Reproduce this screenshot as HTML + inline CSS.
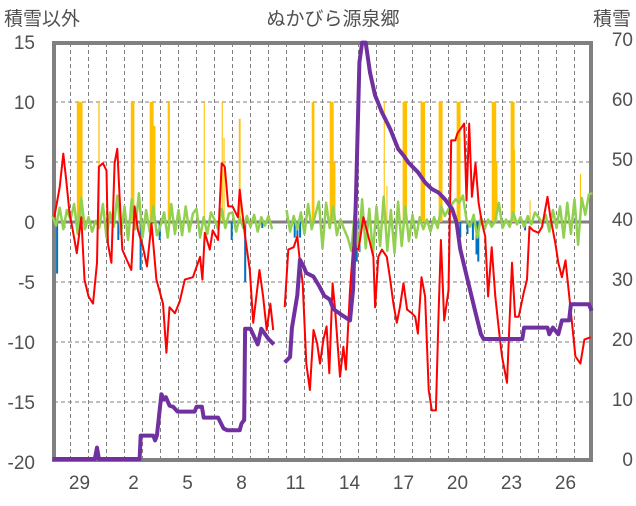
<!DOCTYPE html>
<html><head><meta charset="utf-8">
<style>
body{margin:0;background:#fff;}
svg text{font-family:"Liberation Sans","Noto Sans CJK JP",sans-serif;fill:#505050;}
</style></head>
<body>
<svg id="chart" width="636" height="501" viewBox="0 0 636 501" xmlns="http://www.w3.org/2000/svg">
<text x="4" y="25" font-size="19">積雪以外</text>
<text x="333" y="25" font-size="19" text-anchor="middle">ぬかびら源泉郷</text>
<text x="631" y="25" font-size="19" text-anchor="end">積雪</text>
<g id="grid"></g>
<g id="bars"></g>
<rect x="54" y="43" width="537" height="417" fill="none" stroke="#808080" stroke-width="4"/>
<g id="lines"></g>
<g id="axes"></g>
</svg>
<script>
const dayLabels=["29","2","5","8","11","14","17","20","23","26"];
const dayLabelIdx=[1,4,7,10,13,16,19,22,25,28];
const leftTicks=[15,10,5,0,-5,-10,-15,-20];
const rightTicks=[70,60,50,40,30,20,10,0];
const tempT=[0.1,0.4,0.6,0.76,0.95,1.13,1.35,1.6,1.78,2.0,2.25,2.47,2.58,2.8,3.0,3.08,3.27,3.45,3.6,3.73,3.88,4.14,4.38,4.56,4.75,5.03,5.25,5.5,5.77,6.14,6.33,6.5,6.8,7.07,7.35,7.8,8.2,8.33,8.46,8.74,8.9,9.2,9.4,9.57,9.76,10.0,10.3,10.4,10.7,10.96,11.15,11.5,11.7,11.9,12.1,12.26,12.6,12.9,13.1,13.4,13.6,13.75,13.9,14.1,14.3,14.5,14.7,14.86,15.05,15.23,15.38,15.56,15.7,15.97,16.16,16.3,16.53,16.7,17.0,17.27,17.55,17.83,17.92,18.1,18.3,18.57,18.76,18.94,19.13,19.3,19.5,19.7,19.96,20.15,20.3,20.5,20.7,20.9,21.07,21.3,21.45,21.58,21.76,22.0,22.15,22.37,22.5,22.74,22.87,23.0,23.15,23.3,23.5,23.67,23.86,24.04,24.2,24.4,24.6,24.8,24.97,25.25,25.53,25.7,25.9,26.18,26.36,26.5,26.7,27.0,27.2,27.5,27.66,27.94,28.1,28.3,28.5,28.77,29.05,29.33,29.55,29.9];
const tempV=[0.4,2.9,5.7,3.5,0.7,-0.7,-2.6,0.4,-4.8,-6.2,-6.8,-3.4,4.6,4.9,4.3,-1.8,-3.4,4.9,6.1,2.1,-2.3,-3.2,-4.0,1.3,-0.7,-2.1,-3.7,-0.1,-4.8,-6.8,-10.9,-7.1,-7.6,-6.6,-4.8,-4.6,-2.9,-4.8,-0.9,-2.3,-0.7,-1.5,4.9,4.6,1.3,1.3,0.4,2.7,-1.2,-4.0,-8.4,-4.0,-6.2,-9.0,-6.8,-9.0,null,-7.1,-2.3,-2.1,-1.2,-3.4,-5.1,-11.8,-14.0,-9.0,-10.1,-11.8,-9.8,-8.7,-12.6,-5.1,-7.3,-12.9,-10.4,-12.3,-5.7,-2.1,-2.3,0.4,-1.2,-2.9,-7.1,-2.9,-2.3,-2.9,-4.8,-6.8,-8.4,-7.1,-5.1,-7.3,-7.6,-7.9,-9.3,-4.6,-6.2,-14.0,-15.7,-15.7,-7.6,-1.5,-8.2,-5.7,6.8,6.8,7.4,7.9,8.2,1.8,8.2,2.1,4.9,1.6,-0.1,-1.2,-6.2,-2.1,-6.2,-9.0,-11.2,-13.4,-3.4,-7.9,-7.9,-5.9,-4.8,-0.4,-0.7,-0.9,-0.4,2.1,0.4,-1.8,-3.4,-4.6,-3.2,-7.1,-11.2,-11.8,-9.8,-9.6];
const snowT=[0,2.35,2.47,2.58,4.84,4.9,5.6,5.7,5.8,6.05,6.2,6.3,6.5,6.7,6.95,7.9,8.0,8.3,8.4,9.2,9.5,9.7,10.4,10.5,10.65,10.7,11.0,11.4,11.6,12.0,12.3,12.6,12.9,13.1,13.2,13.3,13.6,13.75,13.95,14.1,14.5,14.8,15.1,15.4,15.6,15.97,16.53,16.7,16.86,17.05,17.2,17.4,17.64,17.92,18.3,18.76,19.2,19.5,19.78,20.3,20.7,21.07,21.45,21.8,22.2,22.45,22.65,23.0,23.5,23.8,23.95,26.1,26.2,27.5,27.6,27.8,28.1,28.3,28.7,28.8,29.8,29.95];
const snowV=[0,0,1.9,0,0,3.9,3.9,3.1,3.9,10.8,9.9,10.3,8.9,8.7,7.9,7.9,8.7,8.7,6.9,6.9,5.1,4.8,4.8,5.9,6.5,21.7,21.7,19.1,21.7,20.0,19.1,null,16.1,16.7,17.0,21.8,27.3,33.2,32.1,31.0,30.4,28.9,27.2,26.6,25.0,24.2,23.1,28.3,43.9,66.1,69.4,69.4,64.4,60.6,57.8,55.0,51.7,50.6,49.4,47.8,46.1,45.0,44.4,43.3,41.7,39.4,35.0,30.6,24.4,20.8,20.0,20.0,21.9,21.9,20.8,21.9,20.8,23.1,23.1,25.8,25.8,24.7];
const windV=[0.5,-0.3,1.2,-0.6,1.0,0.2,1.5,-1.0,2.0,-0.6,0.4,-0.8,0.1,-0.5,1.5,-1.3,0.8,-0.4,2.2,-1.0,1.3,-1.5,1.9,-0.6,2.4,-1.3,1.0,-0.8,1.3,-1.1,-0.3,0.8,-1.3,1.5,-1.0,1.0,-1.1,1.3,-0.8,0.7,1.1,-1.3,0.4,-1.0,0.8,0.2,-0.6,1.1,-0.5,0.7,0.8,-0.8,0.4,-0.5,0.5,-0.4,0.6,-0.8,0.4,-0.3,0.5,-0.6,null,null,null,1.0,-0.8,0.5,-0.6,0.8,-1.0,1.5,-0.6,0.6,1.7,-2.2,1.6,-0.5,1.3,-1.1,0.2,-0.6,-1.3,-2.4,1.0,-2.4,1.9,-2.2,1.1,-2.7,1.3,-2.0,2.1,-2.4,1.0,-2.6,1.7,-2.0,1.3,-1.6,0.6,-1.3,0.4,-0.6,0.2,-0.8,0.4,-0.5,1.3,0.5,1.1,1.5,1.9,1.6,2.2,0.2,-0.4,0.6,-1.3,0.4,-0.6,0.2,-0.4,0.1,1.6,-0.5,0.2,-0.4,0.8,-0.2,0.4,-0.4,0.5,-0.2,0.8,0.4,-0.1,0.6,-0.8,1.0,-0.5,1.3,-1.3,1.6,-1.0,1.9,-1.9,2.0,0.6,2.3,2.4];
const windStep=0.2;
const precipT=[1.35,1.55,2.55,4.35,5.4,5.6,6.4,8.4,9.4,9.5,10.35,14.4,15.4,15.6,18.4,18.55,19.45,20.45,21.45,22.45,24.4,24.6,25.45,25.6,26.5,29.3];
const precipV=[10,10,10,10,10,8,10,10,10,7,8.6,10,10,5,10,3,10,10,10,10,10,5,10,6,1.8,4];
const precipW=[0.22,0.12,0.07,0.2,0.22,0.12,0.12,0.06,0.06,0.06,0.1,0.15,0.22,0.12,0.06,0.06,0.25,0.25,0.22,0.22,0.25,0.12,0.22,0.1,0.06,0.06];
const meltT=[0.05,0.2,0.6,3.6,4.84,5.9,9.9,10.65,11.6,13.4,13.55,13.7,16.7,16.85,17.0,22.6,23.0,23.3,23.5,23.6,26.2,28.7];
const meltV=[-7,-4.3,-0.5,-1.5,-4,-1.5,-1.5,-5,-0.5,-1.3,-1.5,-1.3,-3.0,-3.3,-2.5,-1.3,-1.0,-1.5,-2.7,-3.3,-0.7,-0.5];
const NS='http://www.w3.org/2000/svg';
const X=d=>52.5+d*18;
const YL=v=>222-v*12;
const YR=v=>459-v*6;
function mk(tag,attrs,parent){const e=document.createElementNS(NS,tag);for(const k in attrs)e.setAttribute(k,attrs[k]);parent.appendChild(e);return e;}
const grid=document.getElementById('grid'),bars=document.getElementById('bars'),lines=document.getElementById('lines'),axes=document.getElementById('axes');
for(let d=1;d<30;d++){const l=mk('line',{x1:X(d),x2:X(d),y1:43,y2:460,stroke:'#7f7f7f','stroke-width':1,'stroke-dasharray':'4,3'},grid);

}
leftTicks.forEach(v=>{if(v===15||v===-20)return;const l=mk('line',{x1:54,x2:591,y1:YL(v),y2:YL(v),stroke:v===0?'#808080':'#7f7f7f','stroke-width':v===0?3:1,'stroke-dasharray':v===0?'none':'4,3'},grid);

});
precipT.forEach((t,i)=>{const r=mk('rect',{x:X(t),y:YL(precipV[i]),width:precipW[i]*18,height:YL(0)-YL(precipV[i]),fill:'#FFC000'},bars);

});
meltT.forEach((t,i)=>{const r=mk('rect',{x:X(t),y:YL(0),width:2,height:YL(meltV[i])-YL(0),fill:'#0070C0'},bars);

});
function path(ts,vs,yf){let d='',pen=false;for(let i=0;i<vs.length;i++){if(vs[i]===null){pen=false;continue;}d+=(pen?'L':'M')+X(ts[i]).toFixed(1)+','+yf(vs[i]).toFixed(1);pen=true;}return d;}
const windT=windV.map((_,i)=>i*windStep);
const g=mk('path',{d:path(windT,windV,YL),fill:'none',stroke:'#92D050','stroke-width':2.5,'stroke-linejoin':'round'},lines);


const r=mk('path',{d:path(tempT,tempV,YL),fill:'none',stroke:'#FF0000','stroke-width':2,'stroke-linejoin':'round'},lines);


const p=mk('path',{d:path(snowT,snowV,YR),fill:'none',stroke:'#7030A0','stroke-width':4,'stroke-linejoin':'round'},lines);


leftTicks.forEach(v=>{const t=mk('text',{x:35,y:YL(v)+7,'font-size':19,'text-anchor':'end'},axes);t.textContent=v;

});
rightTicks.forEach(v=>{const t=mk('text',{x:633,y:YR(v)+7,'font-size':19,'text-anchor':'end'},axes);t.textContent=v;

});
dayLabels.forEach((s,i)=>{const t=mk('text',{x:X(dayLabelIdx[i]+0.5),y:489,'font-size':19,'text-anchor':'middle'},axes);t.textContent=s;

});
</script>
</body></html>
